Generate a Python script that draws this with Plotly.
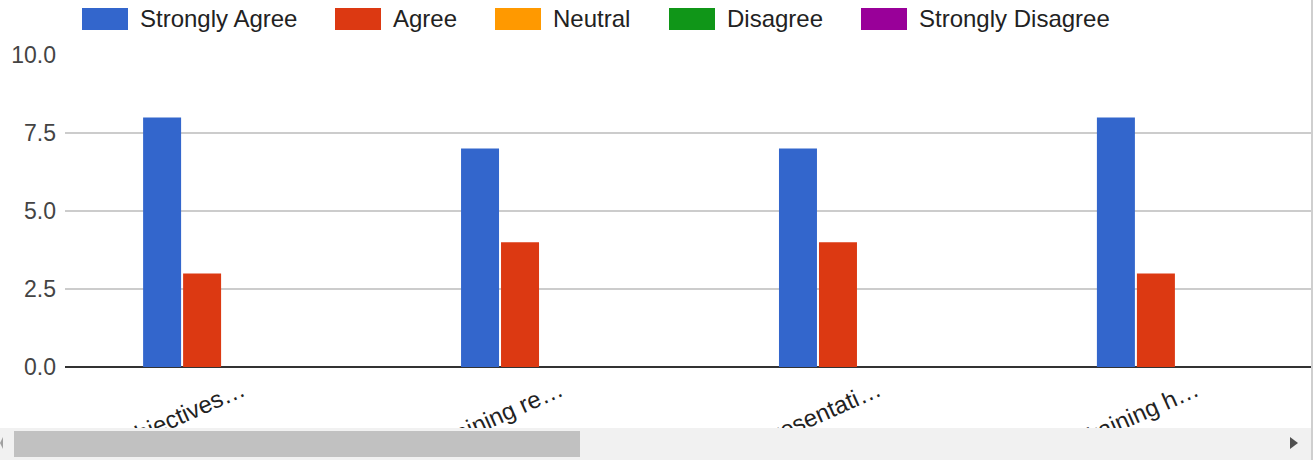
import plotly.graph_objects as go

# ---- data ----
questions = ["Objectives…", "Training re…", "Presentati…", "Training h…"]
series_names = ["Strongly Agree", "Agree", "Neutral", "Disagree", "Strongly Disagree"]
strongly_agree = [8, 7, 7, 8]
agree = [3, 4, 4, 3]
neutral = [0, 0, 0, 0]
disagree = [0, 0, 0, 0]
strongly_disagree = [0, 0, 0, 0]
y_ticks = [0, 2.5, 5, 7.5, 10]

colors = ["#3366cc", "#dc3912", "#ff9900", "#109618", "#990099"]
values = [strongly_agree, agree, neutral, disagree, strongly_disagree]

W, H = 1315, 460
L, R, T, B = 65, 4, 55, 93
PW, PH = W - L - R, H - T - B
FONT = "Liberation Sans, Arial, sans-serif"


def px(x):
    return (x - L) / PW


def py(y):
    return (H - B - y) / PH


fig = go.Figure()
for name, vals, col in zip(series_names, values, colors):
    fig.add_trace(go.Bar(x=list(range(len(questions))), y=vals, name=name,
                         marker=dict(color=col, line=dict(width=0)),
                         showlegend=False))

shapes = []
annotations = []
# custom legend (large swatches)
legend_x = [82, 335, 495, 669, 861]
for lx, name, col in zip(legend_x, series_names, colors):
    shapes.append(dict(type="rect", xref="paper", yref="paper",
                       x0=px(lx), x1=px(lx + 46), y0=py(30), y1=py(8),
                       fillcolor=col, line=dict(width=0), layer="above"))
    annotations.append(dict(xref="paper", yref="paper", x=px(lx + 56), y=py(19),
                            xanchor="left", yanchor="middle", showarrow=False,
                            text=name, font=dict(family=FONT, size=24, color="#222222")))

# right border line
shapes.append(dict(type="line", xref="paper", yref="paper",
                   x0=px(1312), x1=px(1312), y0=py(0), y1=py(460),
                   line=dict(color="#cfcfcf", width=2), layer="above"))
# scrollbar
shapes.append(dict(type="rect", xref="paper", yref="paper",
                   x0=px(0), x1=px(1311), y0=py(460), y1=py(428),
                   fillcolor="#f1f1f1", line=dict(width=0), layer="above"))
shapes.append(dict(type="rect", xref="paper", yref="paper",
                   x0=px(14), x1=px(580), y0=py(457), y1=py(431),
                   fillcolor="#c1c1c1", line=dict(width=0), layer="above"))
shapes.append(dict(type="path", xref="paper", yref="paper",
                   path=f"M {px(1290)} {py(437)} L {px(1298)} {py(443)} L {px(1290)} {py(449)} Z",
                   fillcolor="#505050", line=dict(width=0), layer="above"))
shapes.append(dict(type="path", xref="paper", yref="paper",
                   path=f"M {px(3)} {py(437)} L {px(0)} {py(443)} L {px(3)} {py(449)} Z",
                   fillcolor="#a0a0a0", line=dict(width=0), layer="above"))

fig.update_layout(
    width=W, height=H, autosize=False,
    margin=dict(l=L, r=R, t=T, b=B, pad=0),
    paper_bgcolor="white", plot_bgcolor="white",
    barmode="group", bargap=0.371, bargroupgap=0.05,
    font=dict(family=FONT, size=20, color="#444444"),
    shapes=shapes, annotations=annotations,
    xaxis=dict(range=[-0.557, 3.362], tickvals=list(range(len(questions))),
               ticktext=questions, tickangle=-24, showgrid=False,
               zeroline=False, showline=False, ticks="", automargin=False,
               ticklabelstandoff=4,
               tickfont=dict(family=FONT, size=24, color="#222222")),
    yaxis=dict(range=[0, 10], tickvals=y_ticks, tickformat=".1f",
               showgrid=True, gridcolor="#cccccc", gridwidth=2,
               zeroline=True, zerolinecolor="#333333", zerolinewidth=2,
               showline=False, ticks="", ticklabelstandoff=8, automargin=False,
               tickfont=dict(family=FONT, size=23, color="#444444")),
)

fig.write_html("out.html", config={"displayModeBar": False},
               post_script="document.body.style.margin='0';document.body.style.overflow='hidden';")
